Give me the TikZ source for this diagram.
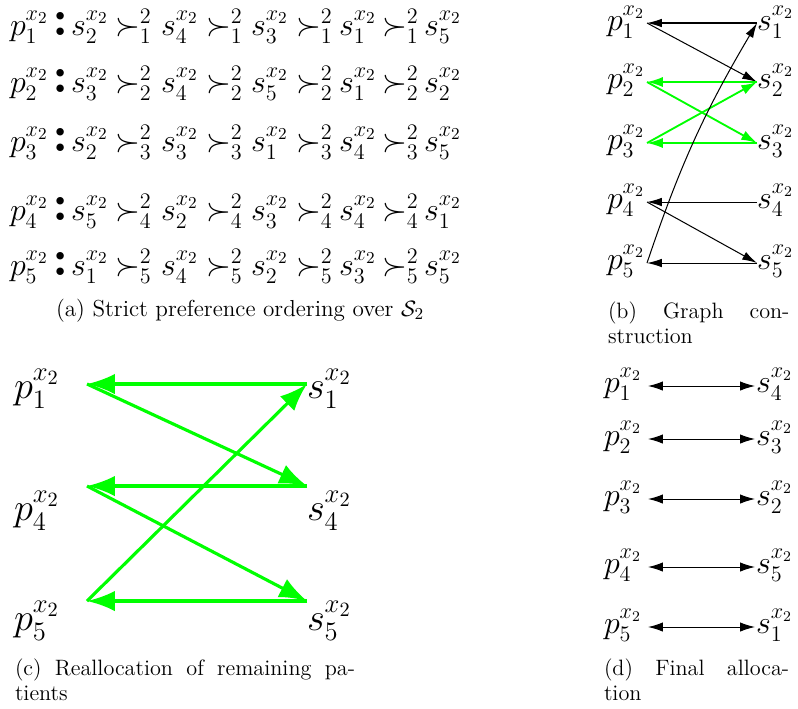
\documentclass[tikz,border=0pt]{standalone}
\usepackage{amsmath,amssymb}
\usetikzlibrary{arrows.meta,calc}
\newcommand\prefrowX[7]{%
  \node[lab,fa] (a-p#1) at (10,#2) {$p_{#1}^{x_2}$};
  \node[lab,colonfont] (a-c#1) at (52,#2) {:};
  \node[lab,fa] (a-s#1-1) at (71,#2) {$s_{#3}^{x_2}$};
  \node[lab,fa] (a-g#1-1) at (115,#2) {$\succ_{#1}^{2}$};
  \node[lab,fa] (a-s#1-2) at (161,#2) {$s_{#4}^{x_2}$};
  \node[lab,fa] (a-g#1-2) at (206,#2) {$\succ_{#1}^{2}$};
  \node[lab,fa] (a-s#1-3) at (251,#2) {$s_{#5}^{x_2}$};
  \node[lab,fa] (a-g#1-3) at (296,#2) {$\succ_{#1}^{2}$};
  \node[lab,fa] (a-s#1-4) at (339,#2) {$s_{#6}^{x_2}$};
  \node[lab,fa] (a-g#1-4) at (382,#2) {$\succ_{#1}^{2}$};
  \node[lab,fa] (a-s#1-5) at (424,#2) {$s_{#7}^{x_2}$};
}
\begin{document}
\begin{tikzpicture}[x=0.54pt,y=-0.54pt,
  lab/.style={anchor=base west,inner sep=0pt,outer sep=0pt},
  fa/.style={font=\fontsize{18}{20}\selectfont},
  fb/.style={font=\fontsize{16.5}{18}\selectfont},
  fc/.style={font=\fontsize{21}{24}\selectfont},
  colonfont/.style={font=\fontsize{28}{30}\selectfont\bfseries},
  captxt/.style={inner sep=0pt,outer sep=0pt,font=\fontsize{12}{14}\selectfont},
  barr/.style={line width=0.55pt,-{Latex[length=8pt,width=4.6pt]}},
  garr/.style={green,line width=1pt,-{Latex[length=8.5pt,width=5.4pt]}},
  carr/.style={green,line width=1.7pt,-{Latex[length=15pt,width=11pt]}},
  darr/.style={line width=0.55pt,{Latex[length=8pt,width=5pt]}-{Latex[length=8pt,width=5pt]}}]
\useasboundingbox (0,0) rectangle (798,708);

% (a) preference orderings
\prefrowX{1}{35}{2}{4}{3}{1}{5}
\prefrowX{2}{92}{3}{4}{5}{1}{2}
\prefrowX{3}{151}{2}{3}{1}{4}{5}
\prefrowX{4}{220}{5}{2}{3}{4}{1}
\prefrowX{5}{275}{1}{4}{2}{3}{5}
\node[captxt,anchor=base,font=\fontsize{12.5}{14}\selectfont] (capa) at (240,316) {(a) Strict preference ordering over $\mathcal{S}_2$};

% (b) graph construction
\foreach \i/\ya/\sy in {1/23/30,2/82/88,3/143/149,4/202/208,5/263/269}{
  \node[lab,fb] (b-p\i) at (607,\sy) {$p_{\i}^{x_2}$};
  \node[lab,fb] (b-s\i) at (757,\sy) {$s_{\i}^{x_2}$};
  \coordinate (bp\i) at (647,\ya);
  \coordinate (bs\i) at (757,\ya);
}
\draw[barr] (bs1) -- (bp1);
\draw[barr] (bp1) -- (bs2);
\draw[garr] (bs2) -- (bp2);
\draw[garr] (bp2) -- (bs3);
\draw[garr] (bs3) -- (bp3);
\draw[garr] (bp3) -- (bs2);
\draw[barr] (bs4) -- (bp4);
\draw[barr] (bp4) -- (bs5);
\draw[barr] (bs5) -- (bp5);
\draw[barr] (bp5) to[bend left=6] (bs1);
\node[captxt,anchor=base west] (capb1) at (608,318) {\makebox[98pt][s]{(b) Graph con-}};
\node[captxt,anchor=base west] (capb2) at (608,343) {struction};

% (c) reallocation
\foreach \i/\ya/\sy in {1/384/398,4/486/520,5/601/630}{
  \node[lab,fc] (c-p\i) at (14,\sy) {$p_{\i}^{x_2}$};
  \node[lab,fc] (c-s\i) at (307,\sy) {$s_{\i}^{x_2}$};
  \coordinate (cp\i) at (87,\ya);
  \coordinate (cs\i) at (307,\ya);
}
\draw[carr] (cs1) -- (cp1);
\draw[carr] (cp1) -- (cs4);
\draw[carr] (cs4) -- (cp4);
\draw[carr] (cp4) -- (cs5);
\draw[carr] (cs5) -- (cp5);
\draw[carr] (cp5) -- (cs1);
\node[captxt,anchor=base west] (capc1) at (15,675) {\makebox[183.6pt][s]{(c) Reallocation of remaining pa-}};
\node[captxt,anchor=base west] (capc2) at (15,700) {tients};

% (d) final allocation
\foreach \i/\j/\ya/\sy in {1/4/386/392,2/3/439/445,3/2/499/505,4/5/567/573,5/1/627/633}{
  \node[lab,fb] (d-p\i) at (604,\sy) {$p_{\i}^{x_2}$};
  \node[lab,fb] (d-s\i) at (756,\sy) {$s_{\j}^{x_2}$};
  \coordinate (dp\i) at (648,\ya);
  \coordinate (ds\i) at (755,\ya);
  \draw[darr] (dp\i) -- (ds\i);
}
\node[captxt,anchor=base west] (capd1) at (604,675) {\makebox[100pt][s]{(d) Final alloca-}};
\node[captxt,anchor=base west] (capd2) at (604,700) {tion};
\end{tikzpicture}
\end{document}
